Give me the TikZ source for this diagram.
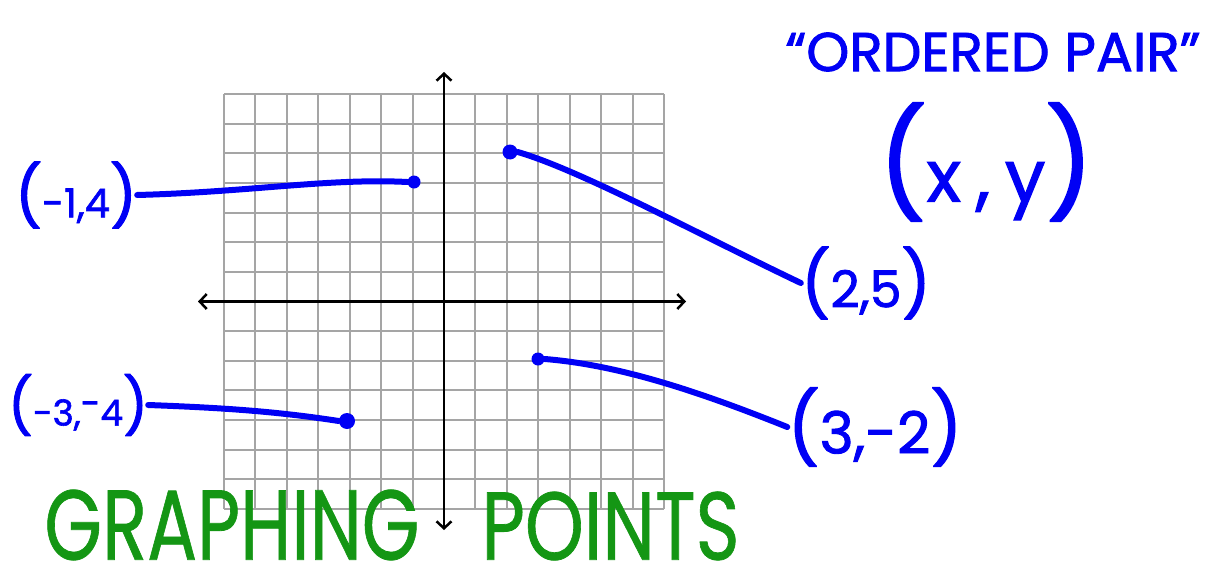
\documentclass[tikz,border=0pt]{standalone}
\usepackage{fontspec}
\setmainfont{Poppins}
\newfontfamily\handfont{Poppins}[FakeBold=1.6]
\newfontfamily\titlefont{Poppins}[FakeBold=0.8]
\usetikzlibrary{arrows.meta}
\definecolor{ink}{RGB}{0,0,245}
\definecolor{pengreen}{RGB}{20,150,20}
\definecolor{gridgray}{RGB}{165,165,165}
\newcommand\fsz[1]{\fontsize{#1}{#1}\selectfont}
\begin{document}
\begin{tikzpicture}[x=1pt,y=-1pt,
  hand/.style={text=ink, inner sep=0pt, anchor=center, font=\handfont},
  dotpt/.style={circle, fill=ink, inner sep=0pt, minimum size=#1},
  dotpt/.default=13pt,
  conn/.style={draw=ink, line width=6pt, line cap=round, line join=round},
  gridline/.style={draw=gridgray, line width=2pt},
  axisline/.style={draw=black, line width=2.8pt,
    {Straight Barb[length=7pt,width=15pt,line width=2.5pt]}-{Straight Barb[length=7pt,width=15pt,line width=2.5pt]}},
]
\useasboundingbox (0,0) rectangle (1207,578);
% grid
\foreach \i in {0,...,14} {
  \draw[gridline] ({224+\i*31.43},94) -- ({224+\i*31.43},509);
  \draw[gridline] (224,{94+\i*29.64}) -- (664,{94+\i*29.64});
}
% axes
\draw[axisline] (198,301.5) -- (686,301.5);
\draw[axisline] (444,72) -- (444,530);

% points
\node[dotpt] (p14) at (414,182) {};
\node[dotpt=15pt] (p25) at (510,152) {};
\node[dotpt] (p32) at (538,359) {};
\node[dotpt=16pt] (p34) at (347,421) {};

% labels
\node[hand] (l14) at (76,195) {\resizebox{122pt}{!}{{\fsz{75}(}{\fsz{50}-1,4}{\fsz{75})}}};
\node[hand] (l25) at (866,283) {\resizebox{130pt}{!}{{\fsz{64}(}{\fsz{50}2,5}{\fsz{64})}}};
\node[hand] (l34) at (78,405) {\resizebox{140pt}{!}{{\fsz{80}(}{\fsz{52}-3,\raisebox{14pt}{-}4}{\fsz{80})}}};
\node[hand] (l32) at (875,427) {\resizebox{175pt}{!}{{\fsz{88}(}{\fsz{72}3,-2}{\fsz{88})}}};
\node[hand] (pair) at (986,162) {\resizebox{215pt}{!}{{\fsz{100}(}{\fsz{68}x\hspace{14pt},\hspace{14pt}y}{\fsz{100})}}};
\node[hand] (ordered) at (993,52) {\resizebox{415pt}{!}{\fsz{54}“ORDERED PAIR”}};
\node[inner sep=0pt, text=pengreen, font=\titlefont] (title) at (392,525)
  {\resizebox{375pt}{70pt}{GRAPHING}\hspace{62pt}\resizebox{258pt}{68pt}{POINTS}};

% connectors
\draw[conn] (l14.east) .. controls (250,192) and (330,178) .. (p14.west);
\draw[conn] (p25.east) .. controls (580,170) and (700,235) .. (l25.west);
\draw[conn] (p32.east) .. controls (620,365) and (700,392) .. (l32.west);
\draw[conn] (l34.east) .. controls (230,408) and (280,412) .. (p34.west);
\end{tikzpicture}
\end{document}
